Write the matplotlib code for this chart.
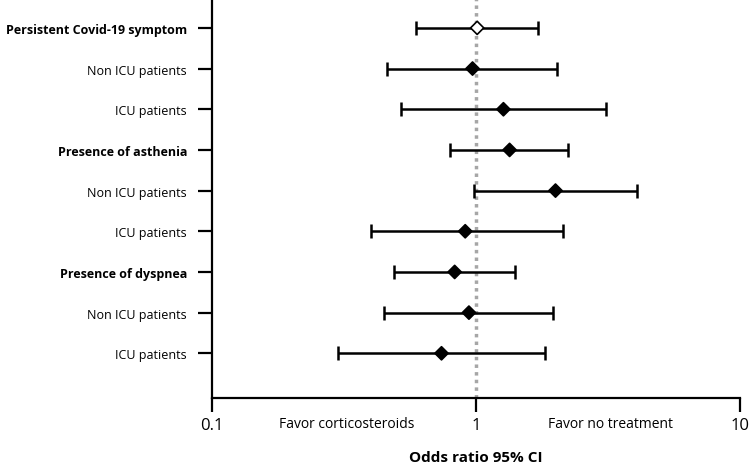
import matplotlib.pyplot as plt
import numpy as np

labels = ['Persistent Covid-19 symptom', 'Non ICU patients', 'ICU patients',
          'Presence of asthenia', 'Non ICU patients', 'ICU patients',
          'Presence of dyspnea', 'Non ICU patients', 'ICU patients']
bold = [True, False, False, True, False, False, True, False, False]
odds = [1.01, 0.97, 1.27, 1.34, 2.00, 0.91, 0.83, 0.94, 0.74]
lower = [0.59, 0.46, 0.52, 0.80, 0.98, 0.40, 0.49, 0.45, 0.30]
upper = [1.71, 2.03, 3.10, 2.24, 4.06, 2.13, 1.41, 1.96, 1.82]

plt.rcParams['font.family'] = ['Open Sans', 'DejaVu Sans']

fig = plt.figure(figsize=(7.5, 4.64), dpi=100)
ax = fig.add_axes([0.2827, 0.140, 0.704, 0.86])

ypos = np.arange(len(labels))[::-1] + 1
odds = np.array(odds)
err = np.array([odds - np.array(lower), np.array(upper) - odds])

ax.axvline(1, color='#a6a6a6', lw=2.5, ls=(0, (1, 1.2)), zorder=1)
ax.errorbar(odds, ypos, xerr=err, fmt='none', ecolor='black', elinewidth=1.8,
            capsize=5, capthick=1.8, zorder=2)
face = ['white'] + ['black'] * (len(odds) - 1)
ax.scatter(odds, ypos, marker='D', s=45, c=face, edgecolors='black',
           linewidths=1.2, zorder=3)

ax.set_xscale('log')
ax.set_xlim(0.1, 10)
ax.set_ylim(-0.1, 9.71)
ax.set_xticks([0.1, 1, 10])
ax.set_xticklabels(['0.1', '1', '10'], fontsize=12)
ax.minorticks_off()
ax.set_yticks(ypos)
ax.set_yticklabels(labels, fontsize=9)
for t, b in zip(ax.get_yticklabels(), bold):
    if b:
        t.set_fontweight('bold')

for s in ['top', 'right']:
    ax.spines[s].set_visible(False)
for s in ['left', 'bottom']:
    ax.spines[s].set_linewidth(1.6)
ax.tick_params(axis='y', length=10, width=1.6, pad=8)
ax.tick_params(axis='x', length=10, width=1.6, pad=4)

ax.text(0.255, -0.045, 'Favor corticosteroids', transform=ax.transAxes,
        ha='center', va='top', fontsize=10)
ax.text(0.755, -0.045, 'Favor no treatment', transform=ax.transAxes,
        ha='center', va='top', fontsize=10)
ax.set_xlabel('Odds ratio 95% CI', fontsize=11, fontweight='bold', labelpad=12)

fig.savefig('out.png', dpi=100)
